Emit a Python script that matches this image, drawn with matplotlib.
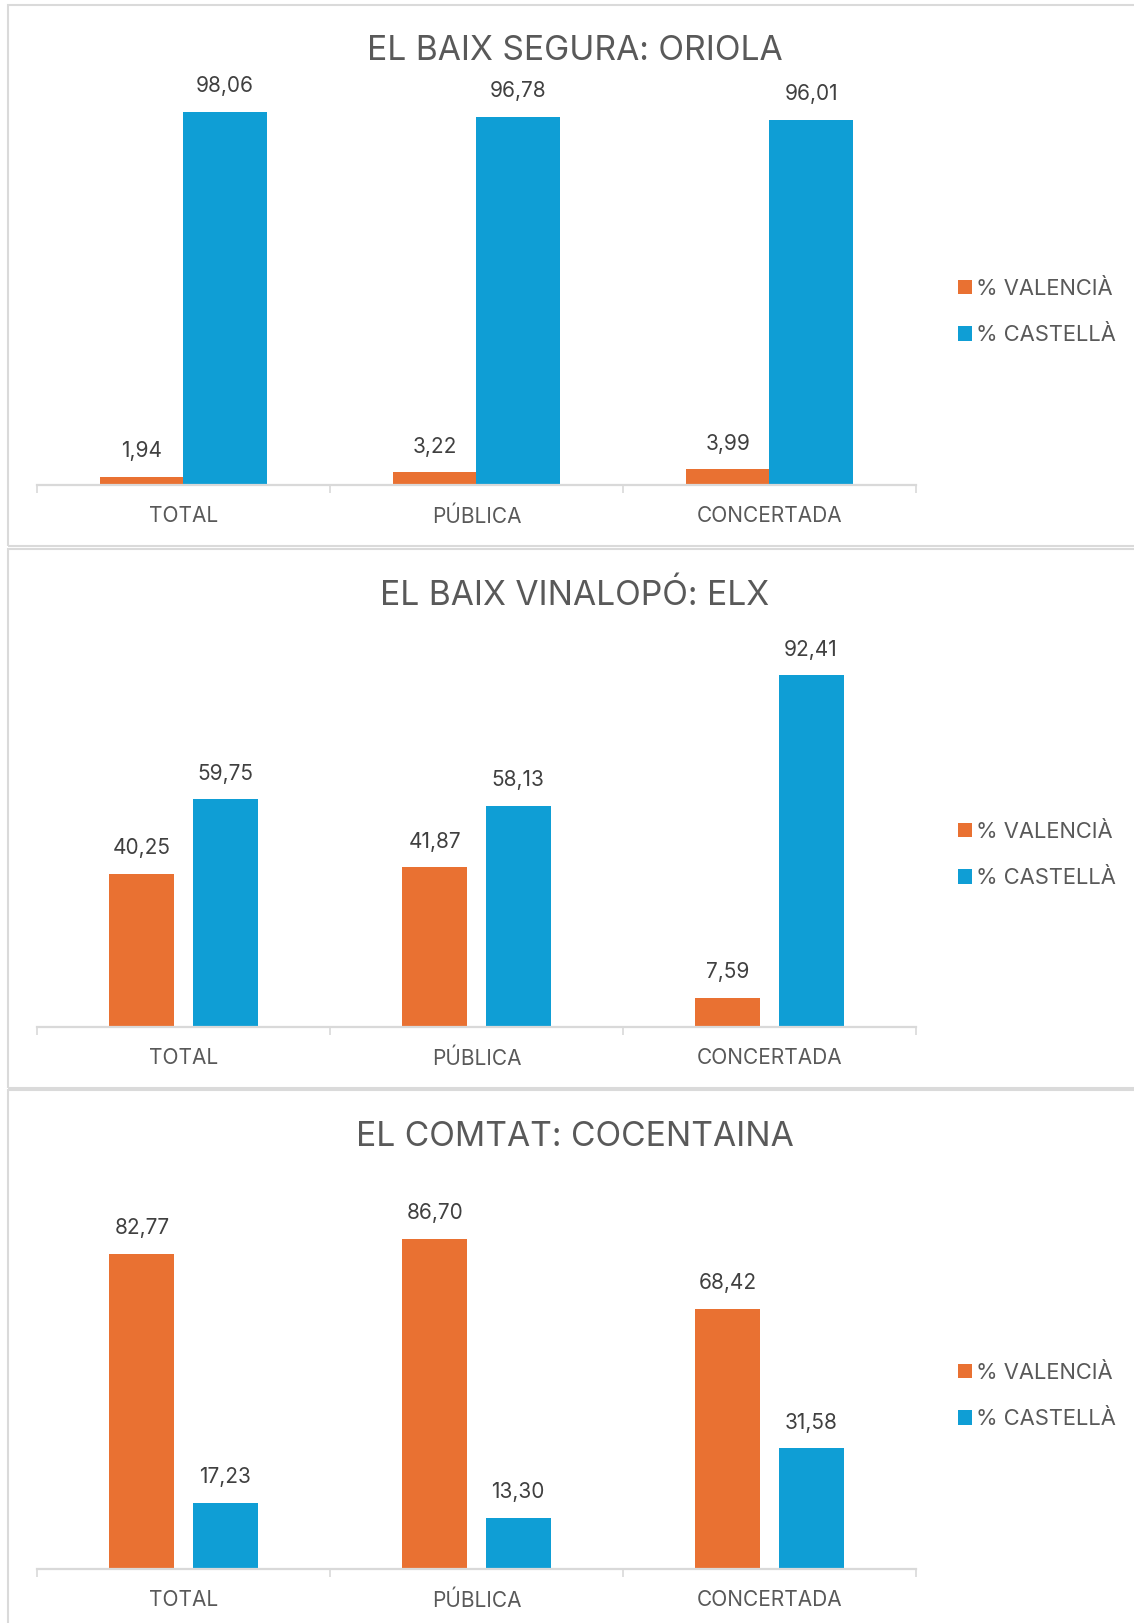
import matplotlib
matplotlib.use("Agg")
import matplotlib.pyplot as plt
from matplotlib.patches import Rectangle, Patch

plt.rcParams['font.family'] = ['Inter', 'DejaVu Sans']

categories = ["TOTAL", "PÚBLICA", "CONCERTADA"]
series_names = ["% VALENCIÀ", "% CASTELLÀ"]
titles = ["EL BAIX SEGURA: ORIOLA", "EL BAIX VINALOPÓ: ELX", "EL COMTAT: COCENTAINA"]
valencia = [
    [1.94, 3.22, 3.99],
    [40.25, 41.87, 7.59],
    [82.77, 86.70, 68.42],
]
castella = [
    [98.06, 96.78, 96.01],
    [59.75, 58.13, 92.41],
    [17.23, 13.30, 31.58],
]

ORANGE = "#E97132"
BLUE = "#0F9ED5"
AXIS = "#D9D9D9"
TXT = "#595959"
LBL = "#404040"

W, H = 1134, 1623
fig = plt.figure(figsize=(W / 100, H / 100), dpi=100)

def fx(px):
    return px / W

def fy(py):
    return 1 - py / H

# panel borders
panels = [(5, 546), (549, 1088), (1090, 1640)]
for top, bot in panels:
    fig.patches.append(Rectangle((fx(8), fy(bot)), fx(1140) - fx(8), fy(top) - fy(bot),
                                 transform=fig.transFigure, fill=False,
                                 edgecolor="#DADADA", linewidth=1.5, zorder=0))

baselines = [484.5, 1026.5, 1568.5]
title_y = [51.5, 596, 1137]
legend_y = [312, 855, 1396]
bar_widths = [0.286, 0.222, 0.222]
offset = 0.142

for i in range(3):
    base = baselines[i]
    ax = fig.add_axes([fx(37), fy(base), fx(916) - fx(37), 380 / H])
    ax.set_xlim(-0.5, 2.5)
    ax.set_ylim(0, 100)
    xs = list(range(len(categories)))
    bw = bar_widths[i]
    b1 = ax.bar([x - offset for x in xs], valencia[i], width=bw, color=ORANGE, zorder=2)
    b2 = ax.bar([x + offset for x in xs], castella[i], width=bw, color=BLUE, zorder=2)
    for bars, vals in ((b1, valencia[i]), (b2, castella[i])):
        for rect, v in zip(bars, vals):
            ax.annotate(f"{v:.2f}".replace(".", ","),
                        (rect.get_x() + rect.get_width() / 2, v),
                        xytext=(0, 18.5), textcoords="offset points",
                        ha="center", va="center", fontsize=15, color=LBL,
                        annotation_clip=False)
    for s in ("top", "right", "left"):
        ax.spines[s].set_visible(False)
    ax.spines["bottom"].set_color(AXIS)
    ax.spines["bottom"].set_linewidth(1.6)
    ax.set_yticks([])
    ax.set_xticks(xs)
    ax.set_xticklabels(categories, fontsize=15, color=TXT)
    ax.tick_params(axis="x", which="major", length=0, pad=15.5)
    ax.set_xticks([-0.5, 0.5, 1.5, 2.5], minor=True)
    ax.tick_params(axis="x", which="minor", length=5.5, width=1.2, color=AXIS)
    ax.patch.set_visible(False)

    fig.text(fx(575), fy(title_y[i]), titles[i], ha="center", va="center",
             fontsize=24.2, color=TXT)

    handles = [Patch(facecolor=ORANGE, edgecolor="none"), Patch(facecolor=BLUE, edgecolor="none")]
    fig.legend(handles, series_names, loc="center left",
               bbox_to_anchor=(fx(958), fy(legend_y[i])), frameon=False,
               fontsize=15.8, labelcolor=TXT, handlelength=0.62, handleheight=0.62,
               handletextpad=0.22, labelspacing=1.2, borderpad=0, borderaxespad=0)

fig.savefig("out.png", dpi=100, facecolor="white")
